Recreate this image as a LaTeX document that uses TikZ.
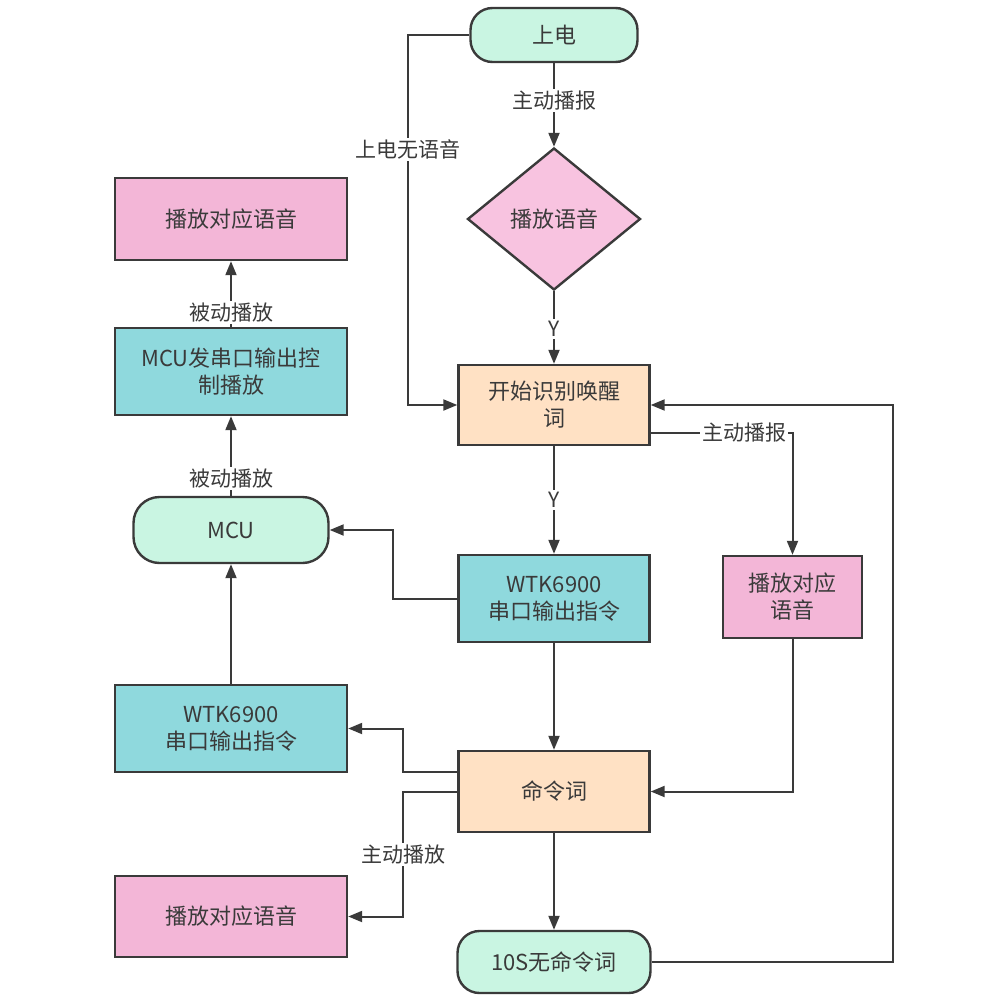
\documentclass[tikz,border=0pt]{standalone}
\usepackage{fontspec}
\setmainfont{Noto Sans CJK SC}
\usetikzlibrary{shapes.geometric,arrows.meta,calc}
\definecolor{ln}{HTML}{3A3A3A}
\definecolor{tx}{HTML}{3A3A3A}
\definecolor{mint}{HTML}{C9F5E2}
\definecolor{pinkbox}{HTML}{F3B6D7}
\definecolor{pinkdia}{HTML}{F8C3E0}
\definecolor{teal}{HTML}{8FD9DD}
\definecolor{peach}{HTML}{FFE1C4}
\tikzset{
  box/.style={draw=ln, line width=2.4pt, inner sep=2pt, align=center, text=tx, font=\fontsize{22}{27}\selectfont},
  term/.style={box, fill=mint, rounded corners=22pt},
  pinkb/.style={box, fill=pinkbox},
  tealb/.style={box, fill=teal},
  peachb/.style={box, fill=peach},
  dia/.style={box, fill=pinkdia, diamond, aspect=1.2, inner sep=0pt},
  conn/.style={draw=ln, line width=2pt, -{Triangle[length=14pt,width=11pt]}},
  lbl/.style={fill=white, text=tx, inner sep=2pt, font=\fontsize{21}{25}\selectfont},
}
\begin{document}
\begin{tikzpicture}[x=1pt,y=-1pt]
\useasboundingbox (0,0) rectangle (1004,996);
% nodes
\node[term, minimum width=167pt, minimum height=54pt] (on) at (554,35) {上电};
\node[dia, minimum width=173pt, minimum height=142pt] (dia) at (554,219) {播放语音};
\node[peachb, minimum width=191pt, minimum height=80pt] (wake) at (554,405) {开始识别唤醒\\词};
\node[pinkb, minimum width=139pt, minimum height=82pt] (play2) at (792.5,597) {播放对应\\语音};
\node[tealb, minimum width=191pt, minimum height=87pt] (wtk) at (554,598.5) {WTK6900\\串口输出指令};
\node[term, minimum width=195pt, minimum height=66pt, rounded corners=26pt] (mcu) at (231,530) {MCU};
\node[tealb, minimum width=232pt, minimum height=87pt] (ctrl) at (231,371.5) {MCU发串口输出控\\制播放};
\node[pinkb, minimum width=232pt, minimum height=82pt] (playA) at (231,219) {播放对应语音};
\node[tealb, minimum width=232pt, minimum height=87pt] (wtkL) at (231,728.5) {WTK6900\\串口输出指令};
\node[peachb, minimum width=191pt, minimum height=81pt] (cmd) at (554,791.5) {命令词};
\node[pinkb, minimum width=232pt, minimum height=81pt] (playB) at (231,916.5) {播放对应语音};
\node[term, minimum width=193pt, minimum height=62pt] (tens) at (554,962) {10S无命令词};
% helper coordinates
\coordinate (c1) at (408,35);
\coordinate (c2) at (393,598.5);
\coordinate (c3) at (403,772);
\coordinate (c4) at (403,792);
\coordinate (c5) at (893,962);
% connectors
\draw[conn] (on) -- node[lbl, pos=0.45] {主动播报} (dia);
\draw[conn] (dia) -- node[lbl, pos=0.52] {Y} (wake);
\draw[conn] (on.west) -- (c1) |- node[lbl, pos=0.155] {上电无语音} (wake.west);
\draw[conn] ([yshift=-28pt]wake.east) -| node[lbl, pos=0.33] {主动播报} (play2.north);
\draw[conn] (wake) -- node[lbl, pos=0.5] {Y} (wtk);
\draw[conn] (wtk.west) -- (c2) |- (mcu.east);
\draw[conn] (mcu) -- node[lbl, pos=0.22] {被动播放} (ctrl);
\draw[conn] (ctrl) -- node[lbl, pos=0.22] {被动播放} (playA);
\draw[conn] (wtkL) -- (mcu);
\draw[conn] (wtk) -- (cmd);
\draw[conn] ([yshift=19.5pt]cmd.west) -- (c3) |- (wtkL.east);
\draw[conn] ([yshift=-0.5pt]cmd.west) -- (c4) |- node[lbl, pos=0.25] {主动播放} (playB.east);
\draw[conn] (play2.south) |- (cmd.east);
\draw[conn] (cmd) -- (tens);
\draw[conn] (tens.east) -- (c5) |- (wake.east);
\end{tikzpicture}
\end{document}
